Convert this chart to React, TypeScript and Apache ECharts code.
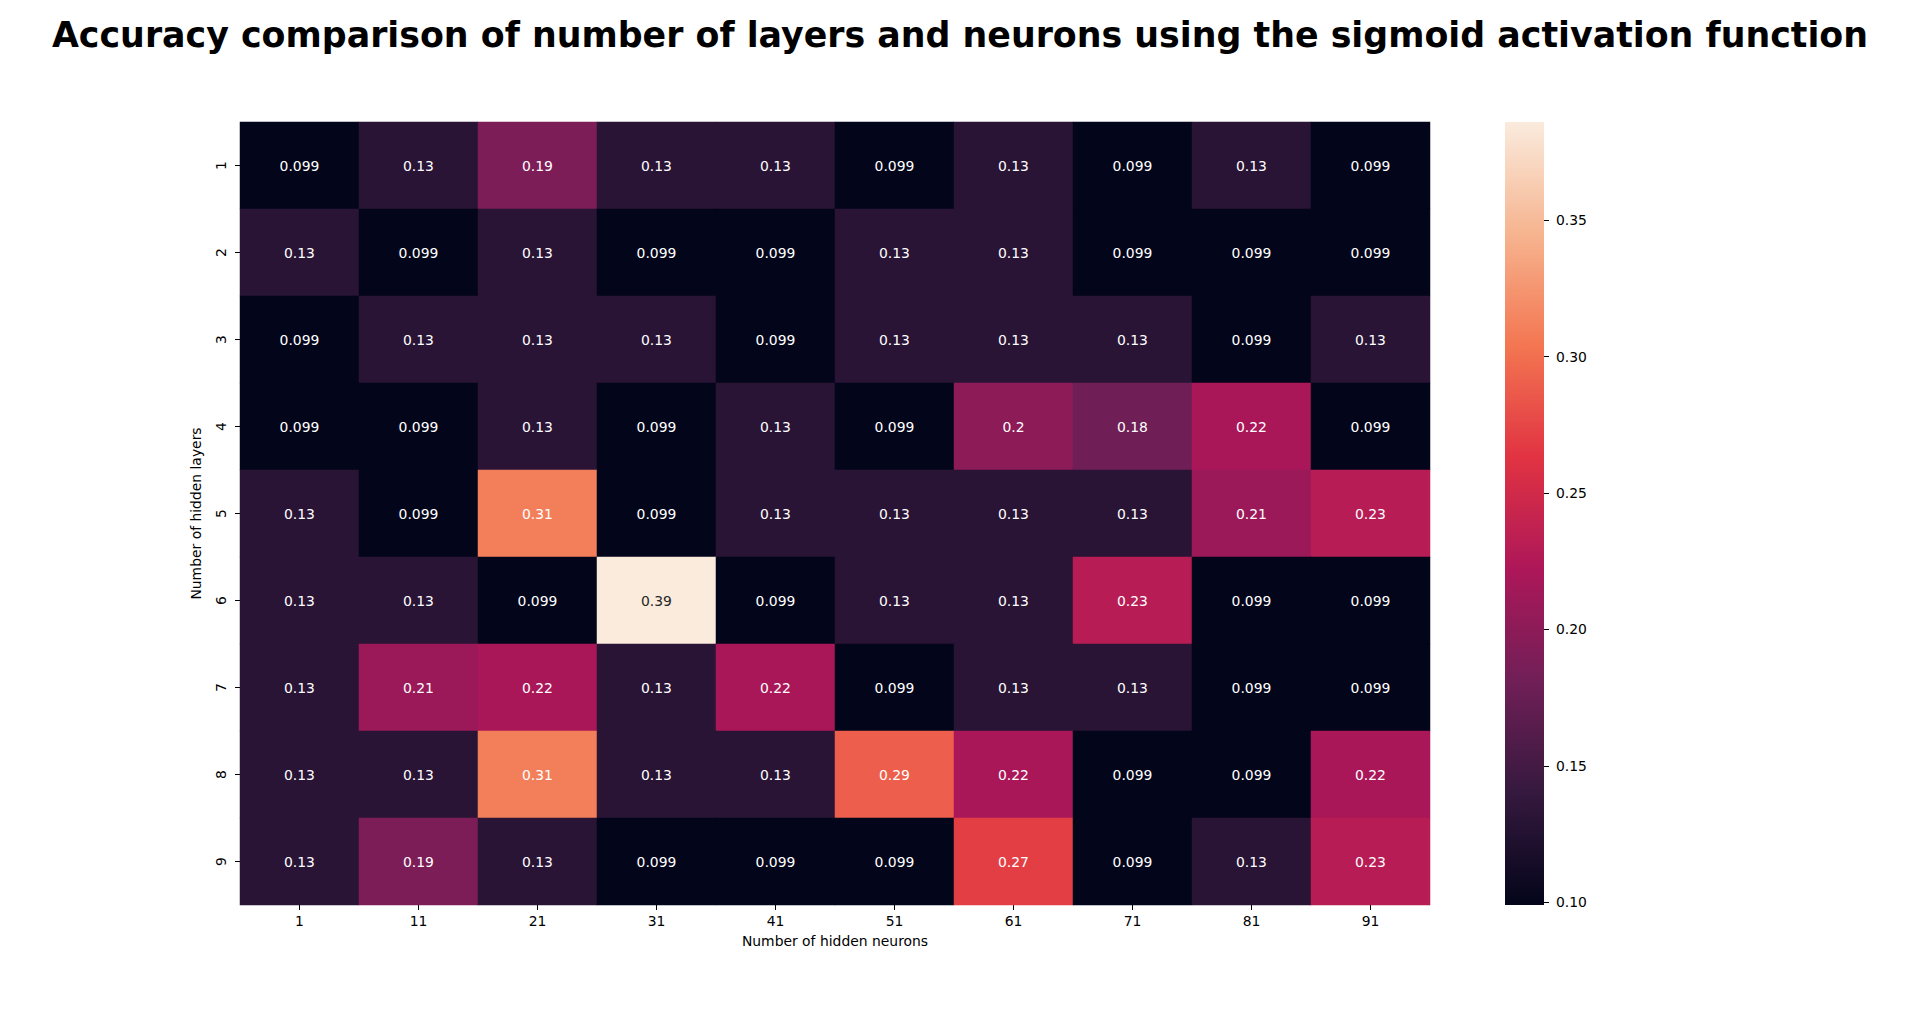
import React, { useEffect, useRef } from "react";
import * as echarts from "echarts";

const neurons = ["1", "11", "21", "31", "41", "51", "61", "71", "81", "91"];
const layers = ["1", "2", "3", "4", "5", "6", "7", "8", "9"];

const row1 = [0.099, 0.13, 0.19, 0.13, 0.13, 0.099, 0.13, 0.099, 0.13, 0.099];
const row2 = [0.13, 0.099, 0.13, 0.099, 0.099, 0.13, 0.13, 0.099, 0.099, 0.099];
const row3 = [0.099, 0.13, 0.13, 0.13, 0.099, 0.13, 0.13, 0.13, 0.099, 0.13];
const row4 = [0.099, 0.099, 0.13, 0.099, 0.13, 0.099, 0.2, 0.18, 0.22, 0.099];
const row5 = [0.13, 0.099, 0.31, 0.099, 0.13, 0.13, 0.13, 0.13, 0.21, 0.23];
const row6 = [0.13, 0.13, 0.099, 0.39, 0.099, 0.13, 0.13, 0.23, 0.099, 0.099];
const row7 = [0.13, 0.21, 0.22, 0.13, 0.22, 0.099, 0.13, 0.13, 0.099, 0.099];
const row8 = [0.13, 0.13, 0.31, 0.13, 0.13, 0.29, 0.22, 0.099, 0.099, 0.22];
const row9 = [0.13, 0.19, 0.13, 0.099, 0.099, 0.099, 0.27, 0.099, 0.13, 0.23];
const rows = [row1, row2, row3, row4, row5, row6, row7, row8, row9];

const colorbarTicks = [0.1, 0.15, 0.2, 0.25, 0.3, 0.35];
const vmin = 0.099;
const vmax = 0.386;

// seaborn "rocket" colormap approximation (evenly spaced stops)
const rocket = ["#03051a", "#35193e", "#701f57", "#ad1759", "#e13342", "#f37651", "#f6b48f", "#faebdd"];

const FONT = "DejaVu Sans";

export default function App() {
  const ref = useRef<HTMLDivElement>(null);

  useEffect(() => {
    document.body.style.margin = "0";
    const chart = echarts.init(ref.current!, null, { renderer: "svg" });

    const data: any[] = [];
    rows.forEach((r, yi) => {
      r.forEach((v, xi) => {
        const norm = (v - vmin) / (vmax - vmin);
        data.push({
          value: [xi, yi, v],
          label: { color: norm > 0.9 ? "#262626" : "#ffffff" },
        });
      });
    });

    const n = rocket.length;
    const gradStops = rocket
      .map((c, i) => ({ offset: 1 - i / (n - 1), color: c }))
      .reverse();

    chart.setOption({
      animation: false,
      backgroundColor: "#ffffff",
      textStyle: { fontFamily: FONT },
      title: {
        text: "Accuracy comparison of number of layers and neurons using the sigmoid activation function",
        left: "center",
        top: 12,
        textStyle: { fontFamily: FONT, fontWeight: "bold", fontSize: 34.8, color: "#000" },
      },
      grid: [
        { left: 240, top: 122, width: 1190, height: 783 },
        { left: 1505, top: 122, width: 39, height: 783 },
      ],
      xAxis: [
        {
          type: "category",
          gridIndex: 0,
          data: neurons,
          position: "bottom",
          axisLine: { show: false },
          axisTick: { show: true, alignWithLabel: true, length: 5, lineStyle: { color: "#000" } },
          axisLabel: { fontFamily: FONT, fontSize: 13.9, color: "#000", margin: 9 },
          splitLine: { show: false },
          name: "Number of hidden neurons",
          nameLocation: "middle",
          nameGap: 29,
          nameTextStyle: { fontFamily: FONT, fontSize: 13.9, color: "#000" },
        },
        {
          type: "category",
          gridIndex: 1,
          data: ["c"],
          show: false,
        },
      ],
      yAxis: [
        {
          type: "category",
          gridIndex: 0,
          data: layers,
          inverse: true,
          axisLine: { show: false },
          axisTick: { show: true, alignWithLabel: true, length: 5, lineStyle: { color: "#000" } },
          axisLabel: { fontFamily: FONT, fontSize: 13.9, color: "#000", rotate: 90, margin: 12 },
          splitLine: { show: false },
          name: "Number of hidden layers",
          nameLocation: "middle",
          nameGap: 37,
          nameTextStyle: { fontFamily: FONT, fontSize: 13.9, color: "#000" },
        },
        {
          type: "value",
          gridIndex: 1,
          position: "right",
          min: vmin,
          max: vmax,
          axisLine: { show: false },
          axisTick: { show: true, length: 5, customValues: colorbarTicks, lineStyle: { color: "#000" } },
          axisLabel: {
            fontFamily: FONT,
            fontSize: 13.9,
            color: "#000",
            margin: 12,
            customValues: colorbarTicks,
            formatter: (v: number) => v.toFixed(2),
          },
          splitLine: { show: false },
        },
      ],
      visualMap: {
        show: false,
        seriesIndex: 0,
        dimension: 2,
        min: vmin,
        max: vmax,
        inRange: { color: rocket },
      },
      series: [
        {
          type: "heatmap",
          xAxisIndex: 0,
          yAxisIndex: 0,
          data,
          label: {
            show: true,
            fontFamily: FONT,
            fontSize: 13.9,
            formatter: (p: any) => String(p.value[2]),
          },
          itemStyle: { borderWidth: 0 },
          emphasis: { disabled: true },
        },
        {
          type: "custom",
          xAxisIndex: 1,
          yAxisIndex: 1,
          data: [[0, vmin, vmax]],
          renderItem: (params: any, api: any) => {
            const top = api.coord([0, api.value(2)]);
            const bottom = api.coord([0, api.value(1)]);
            const cs = params.coordSys;
            return {
              type: "rect",
              shape: { x: cs.x, y: top[1], width: cs.width, height: bottom[1] - top[1] },
              style: {
                fill: new echarts.graphic.LinearGradient(0, 0, 0, 1, gradStops),
              },
            };
          },
        },
      ],
    });

    return () => chart.dispose();
  }, []);

  return <div ref={ref} style={{ width: 1920, height: 1017 }} />;
}
